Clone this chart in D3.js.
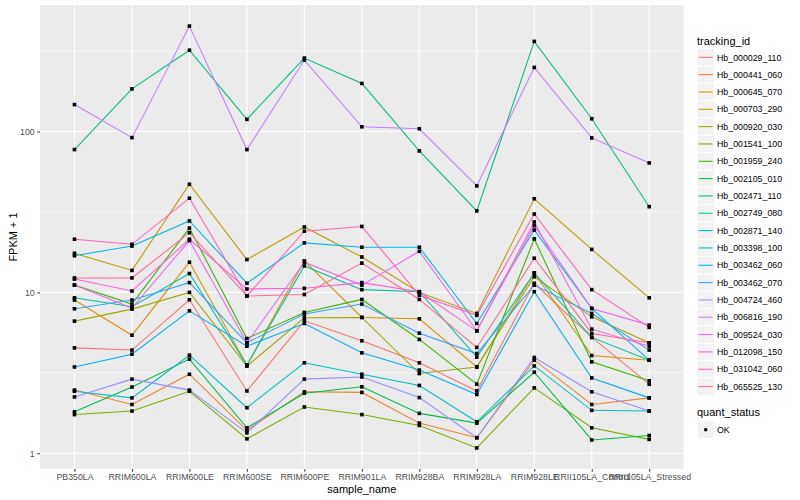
<!DOCTYPE html>
<html>
<head>
<meta charset="utf-8">
<script src="https://cdn.jsdelivr.net/npm/d3@7"></script>
<style>
body { margin: 0; background: #fff; }
text { font-family: "Liberation Sans", Arial, sans-serif; }
</style>
</head>
<body>
<script>
// muestras del eje x
var muestras = ["PB350LA", "RRIM600LA", "RRIM600LE", "RRIM600SE", "RRIM600PE", "RRIM901LA",
    "RRIM928BA", "RRIM928LA", "RRIM928LE", "RRII105LA_Control", "RRII105LA_Stressed"];
var ids = ["Hb_000029_110", "Hb_000441_060", "Hb_000645_070", "Hb_000703_290", "Hb_000920_030",
    "Hb_001541_100", "Hb_001959_240", "Hb_002105_010", "Hb_002471_110", "Hb_002749_080",
    "Hb_002871_140", "Hb_003398_100", "Hb_003462_060", "Hb_003462_070", "Hb_004724_460",
    "Hb_006816_190", "Hb_009524_030", "Hb_012098_150", "Hb_031042_060", "Hb_065525_130"];
var colores = ["#F8766D", "#EA8331", "#D89000", "#C09B00", "#A3A500", "#7CAE00", "#39B600", "#00BB4E",
    "#00BF7D", "#00C1A3", "#00BFC4", "#00BAE0", "#00B0F6", "#35A2FF", "#9590FF", "#C77CFF",
    "#E76BF3", "#FA62DB", "#FF62BC", "#FF6C91"];
// FPKM + 1 por gen
var hb000029_110 = [4.52, 4.38, 9.0, 2.44, 6.66, 5.0, 3.65, 2.44, 11.4, 5.25, 2.69];
var hb000441_060 = [2.47, 2.01, 3.10, 1.39, 2.41, 2.39, 1.54, 1.25, 3.79, 2.01, 2.21];
var hb000645_070 = [8.96, 5.42, 15.4, 3.53, 15.7, 6.99, 6.85, 3.44, 13.2, 4.05, 3.79];
var hb000703_290 = [17.5, 13.7, 47.0, 16.0, 25.5, 16.6, 10.0, 7.40, 38.2, 18.5, 9.25];
var hb000920_030 = [6.63, 7.87, 10.0, 3.48, 6.95, 6.99, 3.13, 3.44, 12.5, 7.05, 4.86];
var hb001541_100 = [1.74, 1.83, 2.43, 1.23, 1.94, 1.74, 1.49, 1.08, 2.55, 1.44, 1.22];
var hb001959_240 = [11.1, 8.46, 25.1, 5.17, 7.51, 9.04, 5.10, 2.69, 21.5, 3.70, 2.82];
var hb002105_010 = [1.81, 2.58, 3.85, 1.44, 2.36, 2.59, 1.77, 1.54, 3.19, 1.21, 1.29];
var hb002471_110 = [77.2, 184, 320, 119, 286, 199, 75.7, 32.1, 363, 120, 34.1];
var hb002749_080 = [9.25, 8.14, 13.1, 3.53, 14.6, 10.4, 10.1, 3.96, 13.2, 5.25, 3.79];
var hb002871_140 = [2.43, 2.21, 4.07, 1.92, 3.65, 3.10, 2.64, 1.57, 3.49, 1.85, 1.83];
var hb003398_100 = [16.9, 19.4, 27.8, 11.4, 20.3, 19.1, 19.1, 6.41, 24.4, 7.95, 3.79];
var hb003462_060 = [3.44, 4.13, 7.68, 4.63, 6.41, 4.21, 3.29, 2.32, 10.1, 2.94, 2.21];
var hb003462_070 = [7.91, 8.96, 11.5, 4.86, 7.33, 8.46, 5.58, 4.17, 11.1, 7.40, 4.38];
var hb004724_460 = [2.24, 2.89, 2.47, 1.34, 2.89, 2.98, 2.22, 1.25, 3.94, 2.41, 1.83];
var hb006816_190 = [147, 91.6, 452, 77.2, 278, 107, 104, 45.9, 250, 91.2, 63.8];
var hb009524_030 = [11.1, 7.99, 21.0, 4.86, 15.4, 11.1, 18.0, 5.77, 26.0, 7.95, 6.26];
var hb012098_150 = [12.1, 10.2, 21.4, 10.5, 10.6, 11.5, 10.1, 5.77, 27.4, 5.91, 4.63];
var hb031042_060 = [21.4, 19.9, 38.5, 9.5, 24.0, 25.7, 9.6, 7.2, 30.7, 10.4, 6.06];
var hb065525_130 = [12.3, 12.3, 23.5, 9.5, 9.7, 15.2, 9.04, 4.55, 16.3, 5.56, 4.86];
var valores = [hb000029_110, hb000441_060, hb000645_070, hb000703_290, hb000920_030, hb001541_100,
    hb001959_240, hb002105_010, hb002471_110, hb002749_080, hb002871_140, hb003398_100, hb003462_060,
    hb003462_070, hb004724_460, hb006816_190, hb009524_030, hb012098_150, hb031042_060, hb065525_130];
var marcasY = [1, 10, 100];
var marcasMenores = [Math.pow(10, 0.5), Math.pow(10, 1.5), Math.pow(10, 2.5)];

function dibujar() {
    var svg = d3.select('body').append('svg').attr('width', 800).attr('height', 500);
    var izq = 40, der = 683.7, arriba = 5, abajo = 469;

    var todos = d3.merge(valores);
    var lo = Math.log10(d3.min(todos)), hi = Math.log10(d3.max(todos)), exp = (hi - lo) * 0.05;
    var y = d3.scaleLog().domain([Math.pow(10, lo - exp), Math.pow(10, hi + exp)]).range([abajo, arriba]);
    var x = d3.scalePoint().domain(muestras).range([izq, der]).padding(0.6);

    // panel
    svg.append('rect').attr('x', izq).attr('y', arriba).attr('width', der - izq).attr('height', abajo - arriba).attr('fill', '#EBEBEB');
    svg.selectAll('.menor').data(marcasMenores).enter().append('line')
        .attr('x1', izq).attr('x2', der).attr('y1', d => y(d)).attr('y2', d => y(d))
        .attr('stroke', 'white').attr('stroke-width', 0.55);
    svg.selectAll('.mayorY').data(marcasY).enter().append('line')
        .attr('x1', izq).attr('x2', der).attr('y1', d => y(d)).attr('y2', d => y(d))
        .attr('stroke', 'white').attr('stroke-width', 1.1);
    svg.selectAll('.mayorX').data(muestras).enter().append('line')
        .attr('x1', d => x(d)).attr('x2', d => x(d)).attr('y1', arriba).attr('y2', abajo)
        .attr('stroke', 'white').attr('stroke-width', 1.1);

    // ejes
    var ejeX = svg.append('g').attr('transform', `translate(0,${abajo})`)
        .call(d3.axisBottom(x).tickSize(2.75).tickPadding(2.5));
    var ejeY = svg.append('g').attr('transform', `translate(${izq},0)`)
        .call(d3.axisLeft(y).tickValues(marcasY).tickFormat(d3.format('d')).tickSize(2.75).tickPadding(2.5));
    [ejeX, ejeY].forEach(function (g) {
        g.select('.domain').remove();
        g.selectAll('.tick line').attr('stroke', '#333333');
        g.selectAll('.tick text').attr('fill', '#4D4D4D').style('font-size', '8.8px')
            .style('font-family', '"Liberation Sans", Arial, sans-serif');
    });

    // lineas y puntos (cuadrados)
    var linea = d3.line().x((d, i) => x(muestras[i])).y(d => y(d));
    valores.forEach(function (serie, k) {
        svg.append('path').attr('d', linea(serie)).attr('fill', 'none')
            .attr('stroke', colores[k]).attr('stroke-width', 1.07);
    });
    var lado = 3.6;
    valores.forEach(function (serie) {
        svg.append('g').selectAll('rect').data(serie).enter().append('rect')
            .attr('x', (d, i) => x(muestras[i]) - lado / 2).attr('y', d => y(d) - lado / 2)
            .attr('width', lado).attr('height', lado).attr('fill', 'black');
    });

    // titulos
    svg.append('text').attr('x', (izq + der) / 2).attr('y', 493).attr('text-anchor', 'middle')
        .style('font-size', '11px').text('sample_name');
    svg.append('text').attr('transform', `translate(17,${(arriba + abajo) / 2}) rotate(-90)`)
        .attr('text-anchor', 'middle').style('font-size', '11px').text('FPKM + 1');

    // leyenda
    var ley = svg.append('g');
    ley.append('text').attr('x', 697).attr('y', 44.5).style('font-size', '11px').text('tracking_id');
    ids.forEach(function (id, i) {
        var cy = 57.3 + i * 17.33;
        ley.append('rect').attr('x', 697).attr('y', cy - 8.66).attr('width', 17.3).attr('height', 17.3)
            .attr('fill', '#F2F2F2').attr('stroke', 'white');
        ley.append('line').attr('x1', 698.7).attr('x2', 712.6).attr('y1', cy).attr('y2', cy)
            .attr('stroke', colores[i]).attr('stroke-width', 1.07);
        ley.append('text').attr('x', 717).attr('y', cy + 3.2).style('font-size', '8.8px').text(id);
    });
    ley.append('text').attr('x', 697).attr('y', 416).style('font-size', '11px').text('quant_status');
    ley.append('rect').attr('x', 697).attr('y', 421).attr('width', 17.3).attr('height', 17.3)
        .attr('fill', '#F2F2F2').attr('stroke', 'white');
    ley.append('rect').attr('x', 704.2).attr('y', 428.2).attr('width', 3).attr('height', 3).attr('fill', 'black');
    ley.append('text').attr('x', 717).attr('y', 432.9).style('font-size', '8.8px').text('OK');
}
window.onload = dibujar;
</script>
</body>
</html>
